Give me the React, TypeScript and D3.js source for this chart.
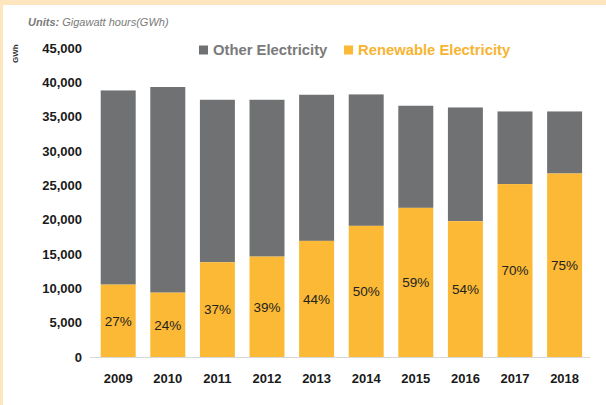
import React from "react";
import * as d3 from "d3";

const years = ["2009", "2010", "2011", "2012", "2013", "2014", "2015", "2016", "2017", "2018"];
const renewable = [10540, 9370, 13800, 14620, 16910, 19100, 21720, 19780, 25180, 26720];
const total = [38820, 39320, 37460, 37460, 38190, 38240, 36590, 36340, 35760, 35760];
const other = total.map((t, i) => t - renewable[i]);
const pctLabels = ["27%", "24%", "37%", "39%", "44%", "50%", "59%", "54%", "70%", "75%"];
const yTicks = [0, 5000, 10000, 15000, 20000, 25000, 30000, 35000, 40000, 45000];
const seriesNames = ["Other Electricity", "Renewable Electricity"];

const W = 606;
const H = 405;
const GREY = "#6f7173";
const YELLOW = "#fbb935";
const FONT = "'Liberation Sans', Arial, sans-serif";

export default function App() {
  const x = d3.scaleBand<string>().domain(years).range([93.4, 589.4]).paddingInner(0.295).paddingOuter(0.1475);
  const y = d3.scaleLinear().domain([0, 45000]).range([357, 48]);
  const fmt = d3.format(",");

  return (
    <svg width={W} height={H} style={{ position: "absolute", left: 0, top: 0 }} fontFamily={FONT}>
      <rect x={0} y={0} width={W} height={H} fill="#fde6bd" />
      <rect x={3} y={5} width={W - 3} height={H - 5} fill="#ffffff" />
      <text x={28} y={26} fontSize={11} fontStyle="italic" fill="#7a7a7a">
        <tspan fontWeight="bold">Units:</tspan> Gigawatt hours(GWh)
      </text>
      <text transform="translate(18,63) rotate(-90)" fontSize={8} fontWeight="bold" fill="#333">GWh</text>
      {yTicks.map((t) => (
        <text key={t} x={82} y={y(t)} dy="0.35em" textAnchor="end" fontSize={13} fontWeight="bold" fill="#1a1a1a">
          {fmt(t)}
        </text>
      ))}
      {years.map((yr, i) => (
        <g key={yr}>
          <rect x={x(yr)} y={y(renewable[i] + other[i])} width={x.bandwidth()} height={y(renewable[i]) - y(renewable[i] + other[i])} fill={GREY} />
          <rect x={x(yr)} y={y(renewable[i])} width={x.bandwidth()} height={y(0) - y(renewable[i])} fill={YELLOW} />
          <text x={(x(yr) as number) + x.bandwidth() / 2} y={(y(0) + y(renewable[i])) / 2} dy="0.35em" textAnchor="middle" fontSize={13.5} fill="#222">
            {pctLabels[i]}
          </text>
          <text x={(x(yr) as number) + x.bandwidth() / 2} y={378} dy="0.35em" textAnchor="middle" fontSize={13} fontWeight="bold" fill="#1a1a1a">
            {yr}
          </text>
        </g>
      ))}
      <line x1={90} x2={590} y1={357.5} y2={357.5} stroke="#d8d8d8" strokeWidth={1} />
      <rect x={199} y={45.5} width={9} height={9} fill={GREY} />
      <text x={213} y={50} dy="0.35em" fontSize={14.8} fontWeight="bold" fill="#7a7a7a">{seriesNames[0]}</text>
      <rect x={344} y={45.5} width={9} height={9} fill={YELLOW} />
      <text x={358} y={50} dy="0.35em" fontSize={14.8} fontWeight="bold" fill="#f7b431">{seriesNames[1]}</text>
    </svg>
  );
}
